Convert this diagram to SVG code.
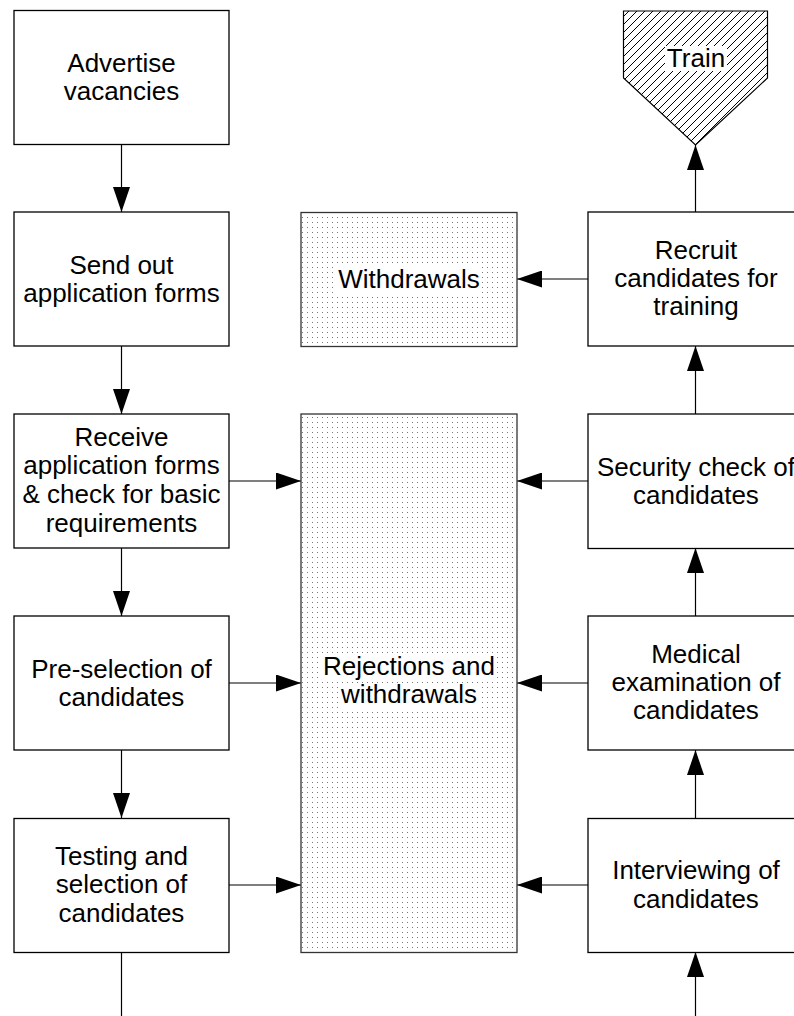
<svg xmlns="http://www.w3.org/2000/svg" width="794" height="1016" viewBox="0 0 794 1016">
<style>
.box{fill:#fff;stroke:#000;stroke-width:1.3}
.dot{fill:url(#dots);stroke:#333;stroke-width:1.3}
.t{font-family:"Liberation Sans",Arial,sans-serif;font-size:26px;fill:#000;text-anchor:middle}
.c{stroke:#000;stroke-width:1.2;fill:none}
.a{marker-end:url(#ah)}
.bg{fill:#fff}
</style>
<defs>
<pattern id="dots" patternUnits="userSpaceOnUse" width="5" height="5" x="0" y="0">
<rect width="5" height="5" fill="#fff"/>
<rect x="2" y="2" width="1" height="1" fill="#777"/>
</pattern>
<pattern id="hatch" patternUnits="userSpaceOnUse" width="8" height="8">
<rect width="8" height="8" fill="#fff"/>
<path d="M0,8 L8,0 M-1,1 L1,-1 M7,9 L9,7" stroke="#000" stroke-width="1"/>
</pattern>
<marker id="ah" markerUnits="userSpaceOnUse" markerWidth="25" markerHeight="17" refX="25" refY="8.5" orient="auto">
<path d="M0,0 L25,8.5 L0,17 Z" fill="#000"/>
</marker>
</defs>

<g id="connectors">
<line class="c a" x1="121.5" y1="144" x2="121.5" y2="212"/>
<line class="c a" x1="121.5" y1="346" x2="121.5" y2="414"/>
<line class="c a" x1="121.5" y1="548" x2="121.5" y2="616"/>
<line class="c a" x1="121.5" y1="750" x2="121.5" y2="818"/>
<line class="c" x1="121.5" y1="952" x2="121.5" y2="1016"/>
<line class="c a" x1="229" y1="481" x2="301" y2="481"/>
<line class="c a" x1="229" y1="683" x2="301" y2="683"/>
<line class="c a" x1="229" y1="885" x2="301" y2="885"/>
<line class="c a" x1="588" y1="279" x2="517" y2="279"/>
<line class="c a" x1="588" y1="481" x2="517" y2="481"/>
<line class="c a" x1="588" y1="683" x2="517" y2="683"/>
<line class="c a" x1="588" y1="885" x2="517" y2="885"/>
<line class="c a" x1="695.5" y1="1016" x2="695.5" y2="952"/>
<line class="c a" x1="695.5" y1="818" x2="695.5" y2="750"/>
<line class="c a" x1="695.5" y1="616" x2="695.5" y2="548"/>
<line class="c a" x1="695.5" y1="414" x2="695.5" y2="346"/>
<line class="c a" x1="695.5" y1="212" x2="695.5" y2="145"/>
</g>

<g id="advertise">
<rect class="box" x="14" y="10.5" width="215" height="134"/>
<text class="t" x="121.5" y="72">Advertise</text>
<text class="t" x="121.5" y="99.5">vacancies</text>
</g>
<g id="send">
<rect class="box" x="14" y="212" width="215" height="134"/>
<text class="t" x="121.5" y="273.5">Send out</text>
<text class="t" x="121.5" y="301.5">application forms</text>
</g>
<g id="receive">
<rect class="box" x="14" y="414" width="215" height="134"/>
<text class="t" x="121.5" y="445.7">Receive</text>
<text class="t" x="121.5" y="474">application forms</text>
<text class="t" x="121.5" y="503">&amp; check for basic</text>
<text class="t" x="121.5" y="531.5">requirements</text>
</g>
<g id="preselection">
<rect class="box" x="14" y="616" width="215" height="134"/>
<text class="t" x="121.5" y="677.5">Pre-selection of</text>
<text class="t" x="121.5" y="705.8">candidates</text>
</g>
<g id="testing">
<rect class="box" x="14" y="818.5" width="215" height="134"/>
<text class="t" x="121.5" y="865">Testing and</text>
<text class="t" x="121.5" y="893.3">selection of</text>
<text class="t" x="121.5" y="921.6">candidates</text>
</g>

<g id="withdrawals">
<rect class="dot" x="301" y="212.5" width="216" height="134"/>
<rect class="bg" x="336" y="265" width="146" height="28"/>
<text class="t" x="409" y="288">Withdrawals</text>
</g>
<g id="rejections">
<rect class="dot" x="301" y="414" width="216" height="538.5"/>
<rect class="bg" x="322" y="653" width="174" height="27"/>
<rect class="bg" x="340" y="683" width="138" height="27"/>
<text class="t" x="409" y="675">Rejections and</text>
<text class="t" x="409" y="703.3">withdrawals</text>
</g>

<g id="train">
<polygon points="623.5,11 767.5,11 767.5,78 695.5,145 623.5,78" fill="url(#hatch)" stroke="#000" stroke-width="1.2"/>
<rect class="bg" x="665" y="46" width="62" height="25"/>
<text class="t" x="696" y="67">Train</text>
</g>
<g id="recruit">
<rect class="box" x="588" y="212" width="215" height="134"/>
<text class="t" x="696" y="258.7">Recruit</text>
<text class="t" x="696" y="287">candidates for</text>
<text class="t" x="696" y="315.3">training</text>
</g>
<g id="security">
<rect class="box" x="588" y="414" width="215" height="134.5"/>
<text class="t" x="696" y="475.5">Security check of</text>
<text class="t" x="696" y="504">candidates</text>
</g>
<g id="medical">
<rect class="box" x="588" y="616" width="215" height="134"/>
<text class="t" x="696" y="662.7">Medical</text>
<text class="t" x="696" y="691">examination of</text>
<text class="t" x="696" y="719.3">candidates</text>
</g>
<g id="interviewing">
<rect class="box" x="588" y="818.5" width="215" height="134"/>
<text class="t" x="696" y="879.3">Interviewing of</text>
<text class="t" x="696" y="907.7">candidates</text>
</g>
</svg>
